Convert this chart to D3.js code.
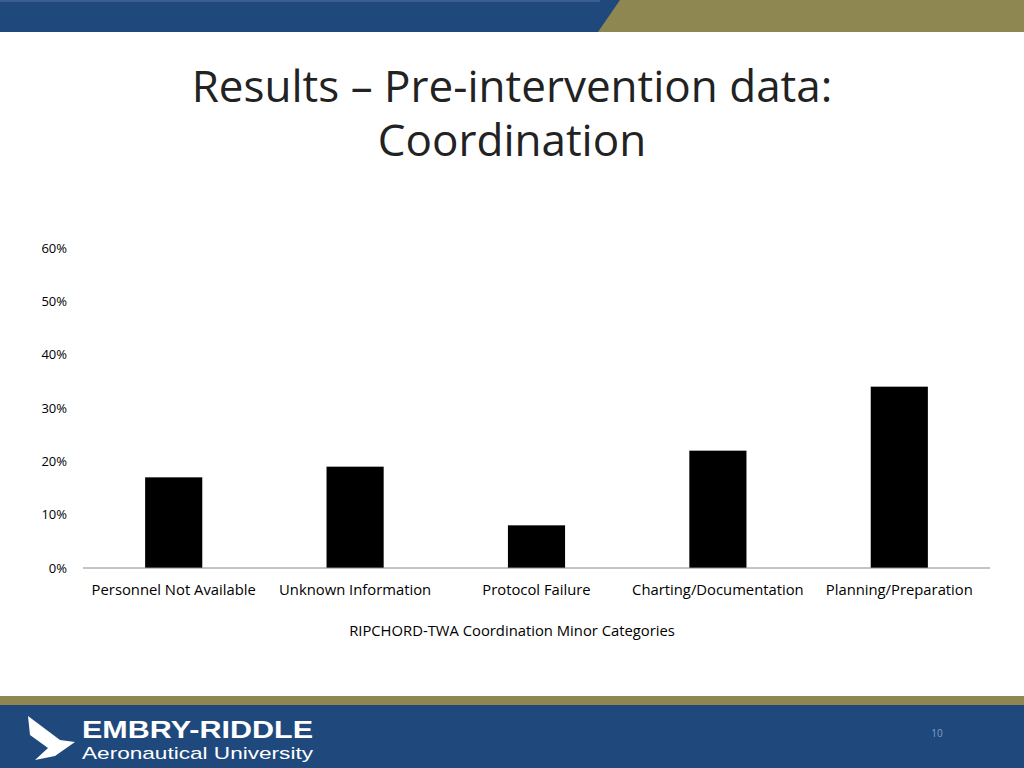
<!DOCTYPE html><html><head><script src="https://cdn.jsdelivr.net/npm/d3@7"></script>
<style>body{margin:0;background:#fff}svg{display:block}</style></head><body>
<svg id="c" width="1024" height="768"></svg>
<script>
const categories=["Personnel Not Available","Unknown Information","Protocol Failure","Charting/Documentation","Planning/Preparation"];
const values=[0.17,0.19,0.08,0.22,0.34];
const tickValues=[0,0.1,0.2,0.3,0.4,0.5,0.6];
const svg=d3.select("#c");
svg.append("rect").attr("x",0).attr("y",0).attr("width",1024).attr("height",32).attr("fill","#8f8752");
svg.append("path").attr("d","M0,0H620L598,32H0Z").attr("fill","#1f497d");
svg.append("rect").attr("x",0).attr("y",0).attr("width",600).attr("height",2).attr("fill","#3a5f90");
svg.append("rect").attr("x",0).attr("y",696).attr("width",1024).attr("height",10).attr("fill","#8f8752");
svg.append("rect").attr("x",0).attr("y",705).attr("width",1024).attr("height",63).attr("fill","#1f497d");
svg.append("text").attr("x",82).attr("y",738).attr("fill","#fff").attr("font-family","Liberation Sans, Arial").attr("font-weight","bold").attr("font-size",24).attr("textLength",231).attr("lengthAdjust","spacingAndGlyphs").text("EMBRY-RIDDLE");
svg.append("text").attr("x",82).attr("y",759).attr("fill","#fff").attr("font-family","Liberation Sans, Arial").attr("font-size",17).attr("textLength",231).attr("lengthAdjust","spacingAndGlyphs").text("Aeronautical University");
svg.append("path").attr("d","M28,716 L60,740 L75,742 L55,756 L35,760 L48,748 L30,735Z").attr("fill","#fff");
svg.append("text").attr("x",937).attr("y",737).attr("text-anchor","middle").attr("fill","#7f9fc8").attr("font-family","Open Sans").attr("font-size",10).text("10");
const tf="'Open Sans', sans-serif";
svg.append("text").attr("x",512).attr("y",102).attr("text-anchor","middle").attr("font-family",tf).attr("font-size",44).attr("fill","#222").text("Results – Pre-intervention data:");
svg.append("text").attr("x",512).attr("y",156).attr("text-anchor","middle").attr("font-family",tf).attr("font-size",44).attr("fill","#222").text("Coordination");
const x=d3.scaleBand().domain(categories).range([83,990]).paddingInner(0.685).paddingOuter(0.3425);
const y=d3.scaleLinear().domain([0,0.6]).range([568,248]);
svg.selectAll(".bar").data(values).join("rect").attr("x",(d,i)=>x(categories[i])).attr("width",x.bandwidth())
 .attr("y",d=>y(d)).attr("height",d=>y(0)-y(d)).attr("fill","#000");
const ya=svg.append("g").attr("transform","translate(68,0)").call(d3.axisLeft(y).tickValues(tickValues).tickFormat(d3.format(".0%")).tickSize(0));
ya.select(".domain").remove();
ya.selectAll("text").attr("font-family",tf).attr("font-size",13).attr("fill","#000").attr("x",-1);
const xa=svg.append("g").attr("transform","translate(0,568)").call(d3.axisBottom(x).tickSize(0).tickSizeOuter(0));
xa.select(".domain").attr("d","M83,0H990").attr("stroke","#888");
xa.selectAll("text").attr("font-family",tf).attr("font-size",14.8).attr("fill","#000").attr("dy",0).attr("y",27);
svg.append("text").attr("x",512).attr("y",636).attr("text-anchor","middle").attr("font-family",tf).attr("font-size",14.8).text("RIPCHORD-TWA  Coordination Minor Categories");
</script></body></html>
